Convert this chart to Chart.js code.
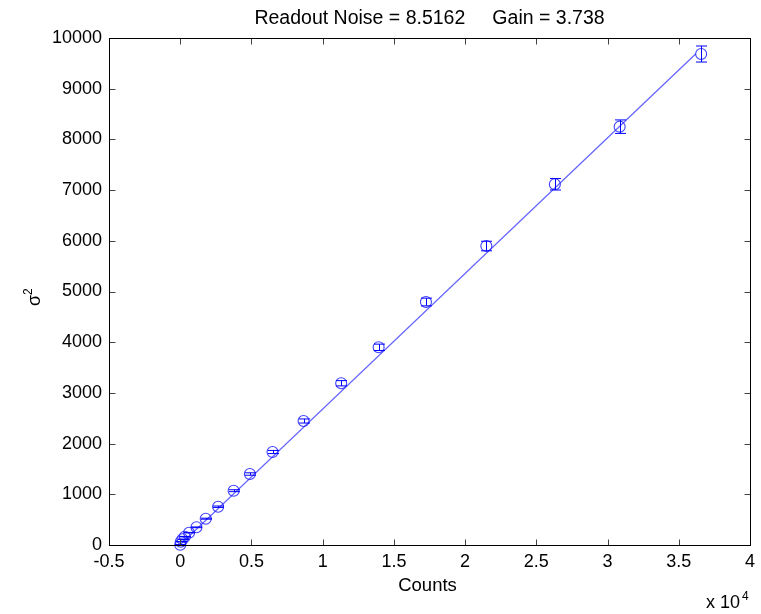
<!DOCTYPE html>
<html>
<head>
<meta charset="utf-8">
<script src="https://cdn.jsdelivr.net/npm/chart.js@4.4.0/dist/chart.umd.min.js"></script>
<style>
  html, body { margin: 0; padding: 0; background: #fff; }
  #wrap { width: 761px; height: 614px; }
</style>
</head>
<body>
<div id="wrap"><canvas id="grafica"></canvas></div>
<script>
// mediciones: cuentas medias, varianza y su error
var counts   = [0, 40, 160, 320, 620, 1140, 1790, 2660, 3750, 4890, 6480, 8660, 11300, 13930, 17250, 21490, 26300, 30850, 36570];
var variance = [5, 65, 113, 164, 243, 349, 519, 755, 1071, 1400, 1834, 2446, 3190, 3899, 4793, 5897, 7115, 8251, 9684];
var varErr   = [1, 2, 3, 4, 5, 7, 10, 14, 19, 24, 31, 40, 52, 63, 76, 94, 113, 133, 158];

// resultado del ajuste
var readNoise = 8.5162;
var gain = 3.738;
var fitRange = [0, 36200];

var xTicks = [-5000, 0, 5000, 10000, 15000, 20000, 25000, 30000, 35000, 40000];
var yTicks = [0, 1000, 2000, 3000, 4000, 5000, 6000, 7000, 8000, 9000, 10000];

var FONT = 'Liberation Sans, Arial, sans-serif';

var puntos = counts.map(function (c, i) { return { x: c, y: variance[i] }; });
var recta = fitRange.map(function (c) {
  return { x: c, y: c / gain + (readNoise * readNoise) / (gain * gain) };
});

// barras de error, marco del eje y marcas hacia adentro (estilo matlab)
var estiloMatlab = {
  id: 'estiloMatlab',
  afterDatasetsDraw: function (chart) {
    var ctx = chart.ctx, xs = chart.scales.x, ys = chart.scales.y;
    ctx.save();
    ctx.strokeStyle = 'rgb(0,0,255)';
    ctx.lineWidth = 1;
    counts.forEach(function (c, i) {
      var px = Math.round(xs.getPixelForValue(c)) + 0.5;
      var top = ys.getPixelForValue(variance[i] + varErr[i]);
      var bot = ys.getPixelForValue(variance[i] - varErr[i]);
      ctx.beginPath();
      ctx.moveTo(px, top); ctx.lineTo(px, bot);
      ctx.moveTo(px - 5.5, top); ctx.lineTo(px + 5.5, top);
      ctx.moveTo(px - 5.5, bot); ctx.lineTo(px + 5.5, bot);
      ctx.stroke();
    });
    ctx.restore();
  },
  afterDraw: function (chart) {
    var ctx = chart.ctx, a = chart.chartArea, xs = chart.scales.x, ys = chart.scales.y;
    var L = Math.round(a.left) + 0.5, R = Math.round(a.right) + 0.5;
    var T = Math.round(a.top) + 0.5, B = Math.round(a.bottom) + 0.5;
    ctx.save();
    ctx.strokeStyle = '#444';
    ctx.lineWidth = 1;
    ctx.beginPath();
    xTicks.forEach(function (v) {
      var px = Math.round(xs.getPixelForValue(v)) + 0.5;
      ctx.moveTo(px, B); ctx.lineTo(px, B - 6);
      ctx.moveTo(px, T); ctx.lineTo(px, T + 6);
    });
    yTicks.forEach(function (v) {
      var py = Math.round(ys.getPixelForValue(v)) + 0.5;
      ctx.moveTo(L, py); ctx.lineTo(L + 6, py);
      ctx.moveTo(R, py); ctx.lineTo(R - 6, py);
    });
    ctx.stroke();
    ctx.strokeStyle = '#000';
    ctx.strokeRect(L, T, R - L, B - T);

    // textos
    ctx.fillStyle = '#000';
    ctx.textBaseline = 'alphabetic';
    ctx.textAlign = 'center';
    var cx = (a.left + a.right) / 2;
    ctx.font = '19.5px ' + FONT;
    ctx.fillText('Readout Noise = ' + readNoise + '     Gain = ' + gain, cx, 24);
    ctx.font = '18.5px ' + FONT;
    ctx.fillText('Counts', cx - 2, 591);

    ctx.textAlign = 'left';
    ctx.font = '18px ' + FONT;
    ctx.fillText('x 10', 706, 608);
    ctx.font = '12px ' + FONT;
    ctx.fillText('4', 742, 600);

    // etiqueta vertical sigma^2
    ctx.translate(40, 300);
    ctx.rotate(-Math.PI / 2);
    ctx.textAlign = 'left';
    ctx.font = '18px ' + FONT;
    ctx.fillText('\u03c3', -6, 0);
    ctx.font = '12px ' + FONT;
    ctx.fillText('2', 5, -8);
    ctx.restore();
  }
};

new Chart(document.getElementById('grafica'), {
  type: 'scatter',
  data: {
    datasets: [
      {
        data: puntos,
        showLine: false,
        pointStyle: 'circle',
        pointRadius: 5.5,
        pointHoverRadius: 5.5,
        borderColor: 'rgba(30,30,255,0.85)',
        backgroundColor: 'rgba(0,0,0,0)',
        borderWidth: 1.1,
        clip: false
      },
      {
        type: 'line',
        data: recta,
        borderColor: 'rgba(70,70,255,0.85)',
        borderWidth: 1.2,
        pointRadius: 0,
        fill: false
      }
    ]
  },
  plugins: [estiloMatlab],
  options: {
    responsive: true,
    maintainAspectRatio: false,
    animation: false,
    events: [],
    layout: { padding: { top: 38, right: 9, left: 0, bottom: 0 } },
    plugins: { legend: { display: false }, tooltip: { enabled: false } },
    scales: {
      x: {
        type: 'linear',
        min: -5000,
        max: 40000,
        afterBuildTicks: function (s) { s.ticks = xTicks.map(function (v) { return { value: v }; }); },
        afterFit: function (s) { s.height = 69; },
        grid: { display: false, drawTicks: false },
        border: { display: false },
        ticks: {
          padding: 6,
          color: '#000',
          font: { family: FONT, size: 18 },
          maxRotation: 0,
          callback: function (v) { return String(v / 10000); }
        }
      },
      y: {
        min: 0,
        max: 10000,
        afterBuildTicks: function (s) { s.ticks = yTicks.map(function (v) { return { value: v }; }); },
        afterFit: function (s) { s.width = 109; },
        grid: { display: false, drawTicks: false },
        border: { display: false },
        ticks: {
          padding: 7,
          color: '#000',
          font: { family: FONT, size: 18 },
          callback: function (v) { return String(v); }
        }
      }
    }
  }
});
</script>
</body>
</html>
